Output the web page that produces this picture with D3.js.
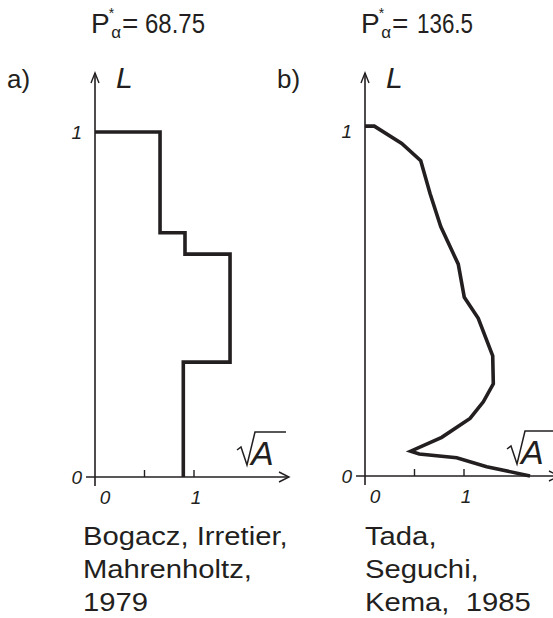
<!DOCTYPE html>
<html>
<head>
<meta charset="utf-8">
<script src="https://cdn.jsdelivr.net/npm/d3@7"></script>
<style>
  body { margin: 0; background: #fff; }
  svg text { font-family: "Liberation Sans", Arial, Helvetica, sans-serif; fill: #231f20; }
</style>
</head>
<body>
<div id="chart"></div>
<script>
// panel a: stepped profile, width of each band between L breakpoints
const bandTopsA = [1, 0.708, 0.646, 0.333];
const bandBottomsA = [0.708, 0.646, 0.333, 0];
const bandWidthsA = [0.657, 0.909, 1.364, 0.892];

// panel b: smooth profile, sqrt(A) against L
const curveXB = [0, 0.094, 0.371, 0.563, 0.657, 0.765, 0.942, 1.003, 1.144, 1.290, 1.296, 1.195, 1.061, 0.775, 0.462, 0.548, 0.926, 1.229, 1.667];
const curveLB = [1.014, 1.014, 0.964, 0.914, 0.819, 0.723, 0.614, 0.518, 0.457, 0.348, 0.267, 0.215, 0.167, 0.112, 0.072, 0.064, 0.053, 0.027, 0];

const panelLabels = ["a)", "b)"];
const titleValues = ["68.75", "136.5"];
const xTicks = [0, 0.5, 1];
const xTickLabels = ["0", "", "1"];
const yTickLabels = ["0", "1"];
const captionA = ["Bogacz, Irretier,", "Mahrenholtz,", "1979"];
const captionB = ["Tada,", "Seguchi,", "Kema,  1985"];

function init() {
    const svg = d3.select("#chart").append("svg")
        .attr("width", 553)
        .attr("height", 618);

    const ink = "#231f20";

    // step data turned into points
    let stepPts = [[0, bandTopsA[0]]];
    bandWidthsA.forEach(function (w, i) {
        stepPts.push([w, bandTopsA[i]]);
        stepPts.push([w, bandBottomsA[i]]);
    });
    const curvePts = curveXB.map(function (x, i) { return [x, curveLB[i]]; });

    const panels = [
        { ox: 95, oy: 477, pts: stepPts, caption: captionA, capX: 83, numX: 50, numW: 60 },
        { ox: 365, oy: 476, pts: curvePts, caption: captionB, capX: 365, numX: 52, numW: 56 }
    ];

    panels.forEach(function (p, k) {
        const x = d3.scaleLinear().domain([0, 1]).range([p.ox, p.ox + 99]);
        const y = d3.scaleLinear().domain([0, 1]).range([p.oy, p.oy - 345]);
        const g = svg.append("g");

        // axes
        g.append("line")
            .attr("x1", p.ox - 9).attr("x2", p.ox + 194)
            .attr("y1", p.oy).attr("y2", p.oy)
            .attr("stroke", ink).attr("stroke-width", 1.6);
        g.append("path")
            .attr("d", `M${p.ox + 184},${p.oy - 5}L${p.ox + 194},${p.oy}L${p.ox + 184},${p.oy + 5}`)
            .attr("fill", "none").attr("stroke", ink).attr("stroke-width", 1.4);
        g.append("line")
            .attr("x1", p.ox).attr("x2", p.ox)
            .attr("y1", p.oy + 9).attr("y2", 73)
            .attr("stroke", ink).attr("stroke-width", 1.6);
        g.append("path")
            .attr("d", `M${p.ox - 4},${83}L${p.ox},${73}L${p.ox + 4},${83}`)
            .attr("fill", "none").attr("stroke", ink).attr("stroke-width", 1.4);

        g.selectAll(".tick")
            .data(xTicks.filter(function (d) { return d > 0; }))
            .join("line")
            .attr("x1", function (d) { return x(d); })
            .attr("x2", function (d) { return x(d); })
            .attr("y1", p.oy).attr("y2", p.oy - 7)
            .attr("stroke", ink).attr("stroke-width", 1.4);

        g.selectAll(".xlab")
            .data(xTicks)
            .join("text")
            .attr("x", function (d) { return x(d) + (d === 0 ? 10 : 2); })
            .attr("y", p.oy + 27)
            .attr("text-anchor", "middle")
            .attr("font-size", 19)
            .attr("font-style", "italic")
            .text(function (d, i) { return xTickLabels[i]; });

        g.selectAll(".ylab")
            .data([0, 1])
            .join("text")
            .attr("x", p.ox - 13)
            .attr("y", function (d) { return y(d) + 7; })
            .attr("text-anchor", "end")
            .attr("font-size", 19)
            .attr("font-style", "italic")
            .text(function (d, i) { return yTickLabels[i]; });

        // data line
        const line = d3.line()
            .x(function (d) { return x(d[0]); })
            .y(function (d) { return y(d[1]); });
        g.append("path")
            .attr("d", line(p.pts))
            .attr("fill", "none")
            .attr("stroke", ink)
            .attr("stroke-width", 3.6)
            .attr("stroke-linejoin", "miter");

        // axis names
        g.append("text")
            .attr("x", p.ox + 21).attr("y", 88)
            .attr("font-size", 30).attr("font-style", "italic")
            .text("L");
        g.append("path")
            .attr("d", `M${p.ox + 142},${p.oy - 27}L${p.ox + 146},${p.oy - 30}L${p.ox + 152},${p.oy - 12}L${p.ox + 160},${p.oy - 45}L${p.ox + 191},${p.oy - 45}`)
            .attr("fill", "none").attr("stroke", ink).attr("stroke-width", 1.5);
        g.append("text")
            .attr("x", p.ox + 156).attr("y", p.oy - 12)
            .attr("font-size", 34).attr("font-style", "italic")
            .text("A");

        // panel label and title
        g.append("text")
            .attr("x", p.ox - 88).attr("y", 88)
            .attr("font-size", 26)
            .text(panelLabels[k]);
        const t = g.append("text")
            .attr("x", p.ox - 4).attr("y", 33)
            .attr("font-size", 28);
        t.append("tspan").text("P");
        t.append("tspan").attr("font-size", 14).attr("dx", -1).attr("dy", -15).text("*");
        t.append("tspan").attr("font-size", 17).attr("dx", -3).attr("dy", 20).text("α");
        t.append("tspan").attr("dx", 1).attr("dy", -5).text("=");
        g.append("text")
            .attr("x", p.ox + p.numX).attr("y", 33)
            .attr("font-size", 28)
            .attr("textLength", p.numW)
            .attr("lengthAdjust", "spacingAndGlyphs")
            .text(titleValues[k]);

        // caption
        g.selectAll(".cap")
            .data(p.caption)
            .join("text")
            .attr("transform", function (d, i) {
                return `translate(${p.capX},${545 + i * 33}) scale(1.17,1)`;
            })
            .attr("font-size", 25)
            .style("white-space", "pre")
            .text(function (d) { return d; });
    });
}

window.addEventListener('load', init);
</script>
</body>
</html>
